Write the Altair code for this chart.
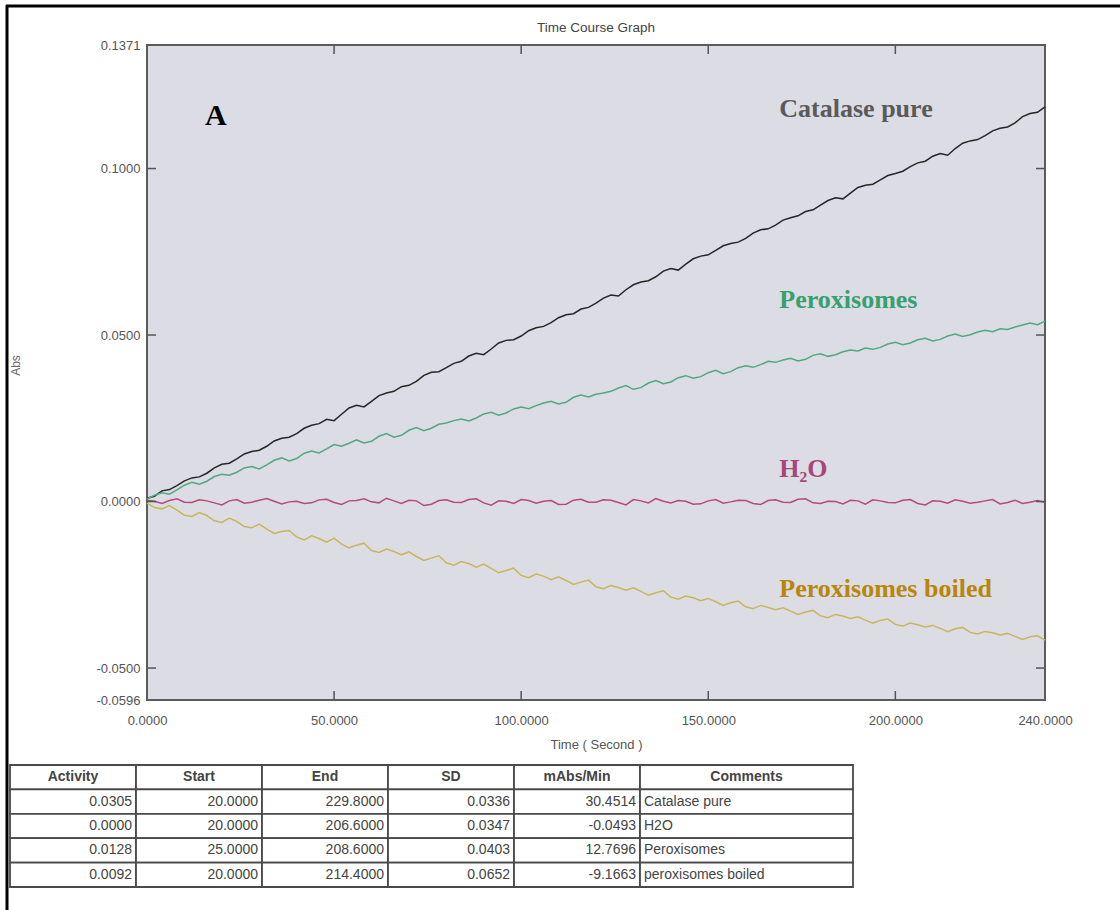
import altair as alt
import pandas as pd

# ---------------- data ----------------
times = list(range(0, 242, 2))

catalase = [0.0010, 0.0016, 0.0032, 0.0036, 0.0048, 0.0062, 0.0071, 0.0074, 0.0085, 0.0101,
            0.0112, 0.0115, 0.0128, 0.0143, 0.0150, 0.0154, 0.0166, 0.0182, 0.0190, 0.0193,
            0.0204, 0.0220, 0.0229, 0.0234, 0.0247, 0.0243, 0.0262, 0.0281, 0.0289, 0.0284,
            0.0301, 0.0318, 0.0326, 0.0331, 0.0345, 0.0349, 0.0361, 0.0379, 0.0388, 0.0390,
            0.0402, 0.0415, 0.0421, 0.0437, 0.0445, 0.0441, 0.0458, 0.0476, 0.0484, 0.0486,
            0.0497, 0.0513, 0.0522, 0.0526, 0.0537, 0.0552, 0.0561, 0.0564, 0.0578, 0.0583,
            0.0596, 0.0611, 0.0620, 0.0617, 0.0636, 0.0651, 0.0659, 0.0663, 0.0675, 0.0692,
            0.0700, 0.0695, 0.0713, 0.0729, 0.0737, 0.0741, 0.0754, 0.0768, 0.0775, 0.0779,
            0.0790, 0.0806, 0.0816, 0.0819, 0.0830, 0.0845, 0.0852, 0.0858, 0.0871, 0.0876,
            0.0890, 0.0904, 0.0912, 0.0909, 0.0926, 0.0943, 0.0950, 0.0953, 0.0966, 0.0979,
            0.0985, 0.0992, 0.1006, 0.1017, 0.1022, 0.1037, 0.1045, 0.1040, 0.1060, 0.1076,
            0.1083, 0.1087, 0.1099, 0.1113, 0.1121, 0.1125, 0.1137, 0.1156, 0.1165, 0.1169,
            0.1185]

peroxisomes = [0.0008, 0.0019, 0.0026, 0.0022, 0.0035, 0.0049, 0.0058, 0.0052, 0.0061, 0.0075,
               0.0082, 0.0079, 0.0088, 0.0101, 0.0105, 0.0098, 0.0110, 0.0124, 0.0131, 0.0122,
               0.0129, 0.0145, 0.0152, 0.0146, 0.0158, 0.0171, 0.0166, 0.0175, 0.0185, 0.0176,
               0.0181, 0.0196, 0.0204, 0.0193, 0.0199, 0.0214, 0.0222, 0.0213, 0.0220, 0.0232,
               0.0236, 0.0243, 0.0248, 0.0242, 0.0251, 0.0263, 0.0268, 0.0259, 0.0266, 0.0278,
               0.0284, 0.0279, 0.0288, 0.0296, 0.0301, 0.0293, 0.0298, 0.0313, 0.0320, 0.0314,
               0.0322, 0.0326, 0.0331, 0.0341, 0.0348, 0.0337, 0.0342, 0.0356, 0.0363, 0.0354,
               0.0359, 0.0372, 0.0378, 0.0370, 0.0375, 0.0387, 0.0394, 0.0384, 0.0390, 0.0402,
               0.0408, 0.0403, 0.0411, 0.0421, 0.0418, 0.0425, 0.0430, 0.0422, 0.0427, 0.0439,
               0.0444, 0.0436, 0.0441, 0.0450, 0.0455, 0.0452, 0.0461, 0.0457, 0.0463, 0.0473,
               0.0478, 0.0471, 0.0476, 0.0486, 0.0490, 0.0482, 0.0487, 0.0497, 0.0503, 0.0496,
               0.0501, 0.0509, 0.0514, 0.0510, 0.0519, 0.0517, 0.0524, 0.0530, 0.0536, 0.0531,
               0.0542]

water = [0.0004, 0.0001, -0.0006, 0.0003, 0.0008, -0.0002, -0.0003, 0.0005, 0.0002, -0.0004,
         -0.0010, 0.0002, 0.0006, -0.0005, -0.0002, 0.0004, 0.0009, 0.0001, -0.0007, -0.0001,
         0.0001, -0.0006, -0.0004, 0.0005, 0.0007, -0.0003, -0.0009, 0.0002, 0.0003, 0.0008,
         -0.0001, -0.0004, 0.0010, 0.0002, -0.0006, 0.0004, 0.0002, -0.0012, -0.0008, 0.0003,
         0.0005, -0.0002, -0.0003, 0.0006, 0.0008, -0.0004, -0.0011, 0.0002, 0.0001, -0.0006,
         0.0006, 0.0003, -0.0005, 0.0001, 0.0003, -0.0009, -0.0008, 0.0004, 0.0007, -0.0002,
         -0.0002, 0.0005, 0.0004, -0.0003, -0.0010, 0.0006, 0.0002, -0.0004, 0.0009, 0.0001,
         -0.0004, 0.0003, 0.0001, -0.0008, -0.0007, 0.0002, 0.0006, -0.0005, -0.0001, 0.0004,
         0.0003, -0.0006, -0.0009, 0.0003, 0.0005, -0.0002, -0.0003, 0.0007, 0.0008, -0.0004,
         -0.0006, 0.0001, 0.0000, -0.0007, 0.0004, 0.0002, -0.0008, 0.0005, 0.0002, -0.0003,
         -0.0004, 0.0004, 0.0006, -0.0006, -0.0010, 0.0002, 0.0001, -0.0005, 0.0005, 0.0001,
         -0.0005, -0.0002, 0.0002, 0.0006, -0.0007, -0.0003, 0.0004, -0.0006, -0.0002, 0.0003,
         -0.0003]

boiled = [-0.0005, -0.0018, -0.0022, -0.0012, -0.0026, -0.0041, -0.0045, -0.0033, -0.0042, -0.0058,
          -0.0063, -0.0050, -0.0060, -0.0075, -0.0079, -0.0068, -0.0083, -0.0096, -0.0090, -0.0087,
          -0.0106, -0.0115, -0.0103, -0.0111, -0.0122, -0.0110, -0.0128, -0.0139, -0.0131, -0.0125,
          -0.0147, -0.0153, -0.0143, -0.0150, -0.0160, -0.0151, -0.0165, -0.0177, -0.0170, -0.0163,
          -0.0184, -0.0191, -0.0180, -0.0186, -0.0197, -0.0188, -0.0201, -0.0214, -0.0207, -0.0200,
          -0.0222, -0.0229, -0.0218, -0.0224, -0.0235, -0.0226, -0.0237, -0.0249, -0.0242, -0.0236,
          -0.0256, -0.0262, -0.0252, -0.0258, -0.0266, -0.0259, -0.0270, -0.0281, -0.0274, -0.0268,
          -0.0287, -0.0293, -0.0284, -0.0289, -0.0298, -0.0291, -0.0301, -0.0312, -0.0304, -0.0299,
          -0.0316, -0.0322, -0.0312, -0.0318, -0.0325, -0.0319, -0.0329, -0.0339, -0.0332, -0.0327,
          -0.0343, -0.0349, -0.0339, -0.0344, -0.0351, -0.0346, -0.0356, -0.0365, -0.0357, -0.0353,
          -0.0369, -0.0374, -0.0365, -0.0370, -0.0377, -0.0372, -0.0381, -0.0391, -0.0382, -0.0378,
          -0.0393, -0.0398, -0.0390, -0.0394, -0.0401, -0.0396, -0.0405, -0.0414, -0.0406, -0.0403,
          -0.0416]

series_names = ["Catalase pure", "Peroxisomes", "H2O", "Peroxisomes boiled"]
line_colors = ["#262626", "#52a97f", "#b24c78", "#c8b65c"]

# annotation labels (placed in data coordinates)
label_texts = ["Catalase pure", "Peroxisomes", "H\u2082O", "Peroxisomes boiled"]
label_t = [169.0, 169.0, 169.0, 169.0]
label_abs = [0.1155, 0.0581, 0.0074, -0.0287]
label_colors = ["#5a5a5a", "#36a06f", "#a8457a", "#b8860b"]

# axis tick values
x_ticks = [0, 50, 100, 150, 200, 240]
y_ticks = [-0.0596, -0.05, 0.0, 0.05, 0.1, 0.1371]
x_inner_ticks = [50, 100, 150, 200]
y_inner_ticks = [-0.05, 0.0, 0.05, 0.1]

# results table
col_names = ["Activity", "Start", "End", "SD", "mAbs/Min"]
activity = [0.0305, 0.0000, 0.0128, 0.0092]
start = [20.0, 20.0, 25.0, 20.0]
end = [229.8, 206.6, 208.6, 214.4]
sd = [0.0336, 0.0347, 0.0403, 0.0652]
rate = [30.4514, -0.0493, 12.7696, -9.1663]
comments = ["Catalase pure", "H2O", "Peroxisomes", "peroxisomes boiled"]
row_ids = ["head", "r1", "r2", "r3", "r4"]

# ---------------- layout ----------------
W, H = 898, 655
SANS = "Liberation Sans"
SERIF = "Liberation Serif"

rows = []
for name, vals in zip(series_names, [catalase, peroxisomes, water, boiled]):
    for t, v in zip(times, vals):
        rows.append({"t": t, "abs": v, "series": name})
lines_df = pd.DataFrame(rows)

xscale = alt.Scale(domain=[0, 240], nice=False, zero=False)
yscale = alt.Scale(domain=[-0.0596, 0.1371], nice=False, zero=False)

label_expr = "replace(format(datum.value, '.4f'), '\u2212', '-')"

x_axis = alt.Axis(values=x_ticks, labelExpr=label_expr, tickSize=0, domain=False, grid=False,
                  labelPadding=14, labelFontSize=13, labelColor="#555", labelFont=SANS,
                  labelFlush=False, labelOverlap=False,
                  titleFont=SANS, titleFontSize=13, titleFontWeight="normal", titleColor="#555",
                  titleY=38, titleBaseline="top")
y_axis = alt.Axis(values=y_ticks, labelExpr=label_expr, tickSize=0, domain=False, grid=False,
                  labelPadding=7, labelFontSize=13, labelColor="#555", labelFont=SANS,
                  labelFlush=False, labelOverlap=False,
                  titleFont=SANS, titleFontSize=12, titleFontWeight="normal", titleColor="#666",
                  titleX=-132, titleY=320, titleBaseline="middle", titleAngle=270)

X = alt.X("t:Q", scale=xscale, axis=x_axis, title="Time ( Second )")
Y = alt.Y("abs:Q", scale=yscale, axis=y_axis, title="Abs")

lines = alt.Chart(lines_df).mark_line(strokeWidth=1.5, interpolate="linear").encode(
    x=X, y=Y,
    color=alt.Color("series:N", scale=alt.Scale(domain=series_names, range=line_colors), legend=None),
    detail="series:N",
)

labels_df = pd.DataFrame({"t": label_t, "abs": label_abs, "label": label_texts, "col": label_colors})
labels = alt.Chart(labels_df).mark_text(align="left", baseline="alphabetic", font=SERIF,
                                        fontWeight="bold", fontSize=26).encode(
    x=X, y=Y, text="label:N", color=alt.Color("col:N", scale=None)
)

a_df = pd.DataFrame({"t": [15.5], "abs": [0.1130], "label": ["A"]})
a_label = alt.Chart(a_df).mark_text(align="left", baseline="alphabetic", font=SERIF,
                                    fontWeight="bold", fontSize=30, color="black").encode(
    x=X, y=Y, text="label:N"
)

ytick_df = pd.DataFrame({"abs": y_inner_ticks})
xtick_df = pd.DataFrame({"t": x_inner_ticks})
tick_style = dict(color="#555", strokeWidth=1.5)
lt = alt.Chart(ytick_df).mark_rule(**tick_style).encode(y=Y, x=alt.value(0), x2=alt.value(9))
rt = alt.Chart(ytick_df).mark_rule(**tick_style).encode(y=Y, x=alt.value(W - 9), x2=alt.value(W))
tt = alt.Chart(xtick_df).mark_rule(**tick_style).encode(x=X, y=alt.value(0), y2=alt.value(9))
bt = alt.Chart(xtick_df).mark_rule(**tick_style).encode(x=X, y=alt.value(H - 9), y2=alt.value(H))

frame_df = pd.DataFrame({"k": [0]})
frame_top = alt.Chart(frame_df).mark_rule(color="black", strokeWidth=3).encode(
    x=alt.value(-141), x2=alt.value(W + 75), y=alt.value(-39), y2=alt.value(-39))
frame_left = alt.Chart(frame_df).mark_rule(color="black", strokeWidth=3).encode(
    x=alt.value(-140), x2=alt.value(-140), y=alt.value(-40), y2=alt.value(H + 210))

# chart title drawn as text so that it stays inside the page
title_text = alt.Chart(frame_df).mark_text(
    text="Time Course Graph", font=SANS, fontSize=13.5, color="#444",
    align="center", baseline="middle"
).encode(x=alt.value(W / 2), y=alt.value(-17))

main = alt.layer(lines, labels, a_label, lt, rt, tt, bt, frame_top, frame_left, title_text)

# ---------------- table ----------------
num_cols = [activity, start, end, sd, rate]
num_rows = []
head_rows = []
cell_rows = []
for c, vals in zip(col_names, num_cols):
    head_rows.append({"col": c, "row": "head", "text": c})
    cell_rows.append({"col": c, "row": "head"})
    for r, v in zip(row_ids[1:], vals):
        num_rows.append({"col": c, "row": r, "text": f"{v:.4f}"})
        cell_rows.append({"col": c, "row": r})
num_df = pd.DataFrame(num_rows)
head_df = pd.DataFrame(head_rows)
cell_df = pd.DataFrame(cell_rows)

com_df = pd.DataFrame({"col": ["Comments"] * 4, "row": row_ids[1:], "text": comments})
com_head_df = pd.DataFrame({"col": ["Comments"], "row": ["head"], "text": ["Comments"]})
com_cell_df = pd.DataFrame({"col": ["Comments"] * 5, "row": row_ids})

tx = alt.Scale(domain=col_names, range=[-137, 493], paddingInner=0, paddingOuter=0)
cx = alt.Scale(domain=["Comments"], range=[493, 706], paddingInner=0, paddingOuter=0)
ty = alt.Scale(domain=row_ids, range=[720, 842], paddingInner=0, paddingOuter=0)

cell_style = dict(fill="white", stroke="#4a4a4a", strokeWidth=1.8)
text_style = dict(font=SANS, fontSize=14, color="#444", baseline="middle")

t_cells = alt.Chart(cell_df).mark_rect(**cell_style).encode(
    x=alt.X("col:N", scale=tx, axis=None), y=alt.Y("row:N", scale=ty, axis=None))
t_nums = alt.Chart(num_df).mark_text(align="right", dx=-4, **text_style).encode(
    x=alt.X("col:N", scale=tx, axis=None, bandPosition=1),
    y=alt.Y("row:N", scale=ty, axis=None, bandPosition=0.5), text="text:N")
t_head = alt.Chart(head_df).mark_text(align="center", fontWeight="bold", **text_style).encode(
    x=alt.X("col:N", scale=tx, axis=None, bandPosition=0.5),
    y=alt.Y("row:N", scale=ty, axis=None, bandPosition=0.5), text="text:N")
table_left = alt.layer(t_cells, t_nums, t_head)

c_cells = alt.Chart(com_cell_df).mark_rect(**cell_style).encode(
    x=alt.X("col:N", scale=cx, axis=None), y=alt.Y("row:N", scale=ty, axis=None))
c_text = alt.Chart(com_df).mark_text(align="left", dx=4, **text_style).encode(
    x=alt.X("col:N", scale=cx, axis=None, bandPosition=0),
    y=alt.Y("row:N", scale=ty, axis=None, bandPosition=0.5), text="text:N")
c_head = alt.Chart(com_head_df).mark_text(align="center", fontWeight="bold", **text_style).encode(
    x=alt.X("col:N", scale=cx, axis=None, bandPosition=0.5),
    y=alt.Y("row:N", scale=ty, axis=None, bandPosition=0.5), text="text:N")
table_right = alt.layer(c_cells, c_text, c_head)

chart = alt.layer(main, table_left, table_right).resolve_scale(
    x="independent", y="independent"
).properties(
    width=W, height=H,
    padding={"left": 147, "top": 45, "right": 75, "bottom": 210},
    autosize=alt.AutoSizeParams(type="none"),
    background="white",
).configure_view(fill="#dcdce4", stroke="#5c5c5c", strokeWidth=2)

chart.save("out.html", embed_options={"renderer": "svg", "actions": False})
